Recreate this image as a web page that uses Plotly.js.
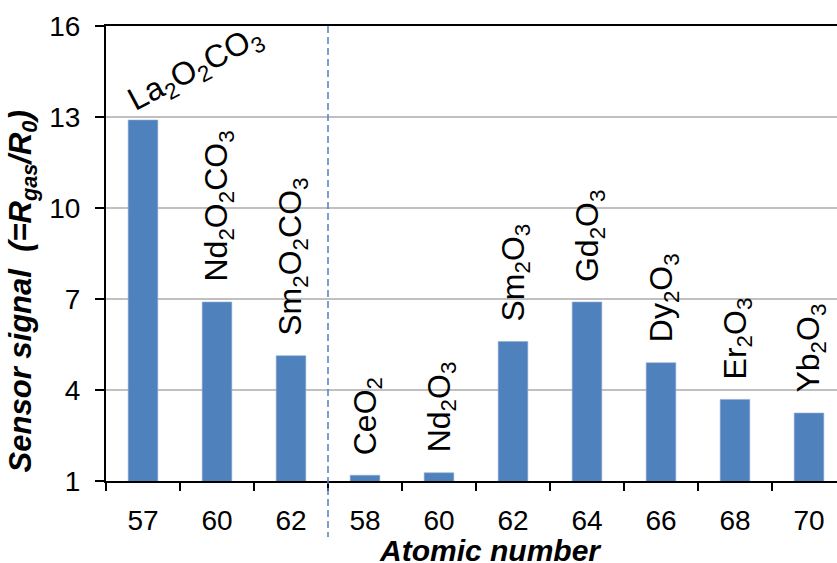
<!DOCTYPE html>
<html>
<head>
<meta charset="utf-8">
<script src="https://cdn.plot.ly/plotly-3.0.1.min.js"></script>
<style>
  html, body { margin: 0; padding: 0; background: #fff; overflow: hidden; }
  #chart { width: 850px; height: 563px; }
</style>
</head>
<body>
<div id="chart"></div>
<script>
// Sensor signal of rare-earth oxycarbonates and oxides versus atomic number
const compounds = [
  'La<sub>2</sub>O<sub>2</sub>CO<sub>3</sub>',
  'Nd<sub>2</sub>O<sub>2</sub>CO<sub>3</sub>',
  'Sm<sub>2</sub>O<sub>2</sub>CO<sub>3</sub>',
  'CeO<sub>2</sub>',
  'Nd<sub>2</sub>O<sub>3</sub>',
  'Sm<sub>2</sub>O<sub>3</sub>',
  'Gd<sub>2</sub>O<sub>3</sub>',
  'Dy<sub>2</sub>O<sub>3</sub>',
  'Er<sub>2</sub>O<sub>3</sub>',
  'Yb<sub>2</sub>O<sub>3</sub>'
];
const atomicNumbers = ['57', '60', '62', '58', '60', '62', '64', '66', '68', '70'];
const signals = [12.9, 6.9, 5.13, 1.19, 1.27, 5.6, 6.9, 4.9, 3.69, 3.24];
const yTicks = [1, 4, 7, 10, 13, 16];

const FONT = 'Liberation Sans, Arial, sans-serif';
const BAR = '#4f81bd';
const idx = signals.map((_, i) => i);
const groupSplit = 2.5; // oxycarbonates | oxides

const bars = {
  type: 'bar',
  x: idx,
  y: signals,
  width: 0.4,
  marker: { color: BAR, line: { color: '#8eaad3', width: 0.6 } },
  hoverinfo: 'skip'
};
// empty trace that carries the boundary tick axis
const tickCarrier = { type: 'scatter', x: [], y: [], xaxis: 'x2', hoverinfo: 'skip', showlegend: false };

const labels = compounds.map((name, i) => {
  const first = i === 0;
  return {
    x: i, y: signals[i], xref: 'x', yref: 'y',
    text: name, showarrow: false,
    textangle: first ? -28 : -90,
    xanchor: first ? 'left' : 'center',
    yanchor: 'bottom',
    xshift: first ? -24 : 2,
    yshift: first ? -5 : 18,
    font: { family: FONT, size: 32, color: '#000' }
  };
});

const titles = [
  {
    text: '<b><i>Atomic number</i></b>',
    xref: 'paper', yref: 'paper', x: 0.519, y: -0.153,
    xanchor: 'center', yanchor: 'middle', showarrow: false,
    font: { family: FONT, size: 30, color: '#000' }
  },
  {
    text: '<b><i>Sensor signal  (=R<sub>gas</sub>/R<sub>0</sub>)</i></b>',
    xref: 'paper', yref: 'paper', x: -0.112, y: 0.417,
    xanchor: 'center', yanchor: 'middle', textangle: -90, showarrow: false,
    font: { family: FONT, size: 31, color: '#000' }
  }
];

const layout = {
  width: 850, height: 563,
  margin: { l: 106, r: 4, t: 26, b: 82 },
  paper_bgcolor: '#fff', plot_bgcolor: '#fff',
  showlegend: false,
  font: { family: FONT, color: '#000' },
  xaxis: {
    range: [-0.5, 9.5],
    tickmode: 'array', tickvals: idx, ticktext: atomicNumbers,
    ticks: '', showgrid: false, zeroline: false,
    showline: true, mirror: true, linecolor: '#000', linewidth: 2,
    tickfont: { family: FONT, size: 28, color: '#000' },
    ticklabelstandoff: 13,
    fixedrange: true
  },
  xaxis2: {
    overlaying: 'x', anchor: 'y',
    range: [-0.5, 9.5],
    tickmode: 'array', tickvals: idx.concat([idx.length]).map(v => v - 0.5),
    ticks: 'outside', ticklen: 9, tickwidth: 2, tickcolor: '#000',
    showticklabels: false, showgrid: false, zeroline: false, showline: false,
    fixedrange: true
  },
  yaxis: {
    range: [1, 16],
    tickmode: 'array', tickvals: yTicks,
    ticks: 'outside', ticklen: 9, tickwidth: 1.5, tickcolor: '#000',
    showgrid: true, gridcolor: '#c0c0c0', gridwidth: 1.5,
    zeroline: false,
    showline: true, linecolor: '#000', linewidth: 2,
    tickfont: { family: FONT, size: 28, color: '#000' },
    ticklabelstandoff: 9,
    fixedrange: true
  },
  shapes: [{
    type: 'line', xref: 'x', yref: 'paper',
    x0: groupSplit, x1: groupSplit, y0: 1, y1: -0.123,
    line: { color: '#4f81bd', width: 1.5, dash: '7px,4px' }
  }],
  annotations: labels.concat(titles)
};

Plotly.newPlot('chart', [bars, tickCarrier], layout, { staticPlot: true, displayModeBar: false });
</script>
</body>
</html>
